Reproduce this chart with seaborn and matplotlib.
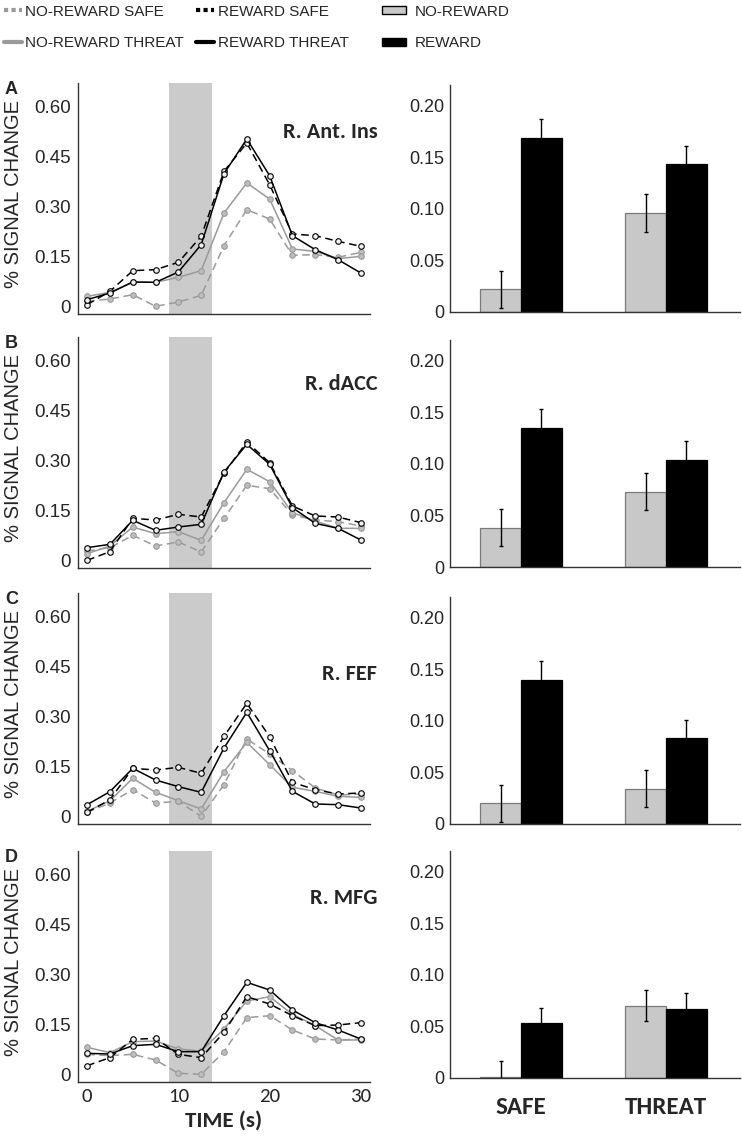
import matplotlib
matplotlib.use("Agg")
import matplotlib.pyplot as plt
from matplotlib import font_manager
from matplotlib.lines import Line2D
from matplotlib.patches import Patch
import pandas as pd
import seaborn as sns

# time course samples (s)
time = [0, 2.5, 5, 7.5, 10, 12.5, 15, 17.5, 20, 22.5, 25, 27.5, 30]

regions = ["R. Ant. Ins", "R. dACC", "R. FEF", "R. MFG"]
letters = ["A", "B", "C", "D"]

# % signal change time courses
ins_nr_safe = [0.015, 0.022, 0.035, 0.0, 0.013, 0.033, 0.182, 0.29, 0.262, 0.153, 0.155, 0.147, 0.162]
ins_nr_threat = [0.03, 0.042, 0.073, 0.072, 0.087, 0.107, 0.28, 0.37, 0.322, 0.172, 0.165, 0.143, 0.15]
ins_r_safe = [0.005, 0.045, 0.107, 0.11, 0.132, 0.21, 0.405, 0.49, 0.365, 0.217, 0.212, 0.195, 0.18]
ins_r_threat = [0.02, 0.04, 0.073, 0.072, 0.103, 0.185, 0.398, 0.502, 0.392, 0.212, 0.17, 0.14, 0.10]

dacc_nr_safe = [0.028, 0.038, 0.075, 0.043, 0.055, 0.025, 0.126, 0.225, 0.215, 0.136, 0.121, 0.116, 0.103]
dacc_nr_threat = [0.02, 0.043, 0.10, 0.08, 0.086, 0.06, 0.173, 0.273, 0.236, 0.143, 0.118, 0.096, 0.096]
dacc_r_safe = [0.0, 0.026, 0.126, 0.121, 0.138, 0.13, 0.261, 0.355, 0.293, 0.163, 0.133, 0.13, 0.113]
dacc_r_threat = [0.038, 0.048, 0.12, 0.09, 0.10, 0.108, 0.265, 0.348, 0.288, 0.158, 0.111, 0.096, 0.061]

fef_nr_safe = [0.012, 0.04, 0.08, 0.04, 0.045, 0.0, 0.095, 0.232, 0.187, 0.137, 0.085, 0.064, 0.067]
fef_nr_threat = [0.015, 0.047, 0.114, 0.072, 0.047, 0.022, 0.134, 0.222, 0.155, 0.087, 0.075, 0.06, 0.057]
fef_r_safe = [0.012, 0.05, 0.144, 0.139, 0.147, 0.129, 0.24, 0.339, 0.239, 0.102, 0.08, 0.067, 0.07]
fef_r_threat = [0.035, 0.074, 0.144, 0.109, 0.089, 0.072, 0.205, 0.312, 0.197, 0.075, 0.037, 0.035, 0.025]

mfg_nr_safe = [0.06, 0.056, 0.06, 0.043, 0.003, 0.0, 0.068, 0.17, 0.176, 0.133, 0.106, 0.103, 0.106]
mfg_nr_threat = [0.081, 0.065, 0.098, 0.10, 0.076, 0.07, 0.136, 0.22, 0.233, 0.18, 0.146, 0.103, 0.103]
mfg_r_safe = [0.026, 0.05, 0.105, 0.108, 0.06, 0.05, 0.126, 0.233, 0.211, 0.176, 0.146, 0.148, 0.155]
mfg_r_threat = [0.063, 0.061, 0.086, 0.09, 0.068, 0.068, 0.176, 0.276, 0.253, 0.193, 0.155, 0.133, 0.106]

courses = [
    [ins_nr_safe, ins_nr_threat, ins_r_safe, ins_r_threat],
    [dacc_nr_safe, dacc_nr_threat, dacc_r_safe, dacc_r_threat],
    [fef_nr_safe, fef_nr_threat, fef_r_safe, fef_r_threat],
    [mfg_nr_safe, mfg_nr_threat, mfg_r_safe, mfg_r_threat],
]

# mean beta per condition and its SEM
bar_cond = ["SAFE", "THREAT"]
ins_nr = [0.022, 0.096]
ins_r = [0.169, 0.143]
dacc_nr = [0.038, 0.073]
dacc_r = [0.135, 0.104]
fef_nr = [0.020, 0.034]
fef_r = [0.140, 0.083]
mfg_nr = [0.001, 0.070]
mfg_r = [0.053, 0.067]
bars = [(ins_nr, ins_r), (dacc_nr, dacc_r), (fef_nr, fef_r), (mfg_nr, mfg_r)]
sem = [0.018, 0.018, 0.018, 0.015]

cue_window = (8.95, 13.7)

sns.set_style("white")
plt.rcParams["font.family"] = ["Liberation Sans", "DejaVu Sans"]

names = {f.name for f in font_manager.fontManager.ttflist}
if "Liberation Sans Narrow" in names:
    leg_font = {"family": "Liberation Sans Narrow", "size": 12.5}
else:
    leg_font = {"family": "Liberation Sans", "size": 11}
bold_family = "Carlito" if "Carlito" in names else "Lato"

GRAY = "#9a9a9a"
series_style = [
    # color, dashed, marker face
    (GRAY, True, "#bdbdbd"),
    (GRAY, False, "#bdbdbd"),
    ("black", True, "#f0f0f0"),
    ("black", False, "#f0f0f0"),
]

W, H = 742, 1137
fig = plt.figure(figsize=(W / 100, H / 100), dpi=100)


def px_axes(left, top, right, bottom):
    return fig.add_axes([left / W, 1 - bottom / H, (right - left) / W, (bottom - top) / H])


left_tops = [83, 337, 593, 851]
right_zero = [312, 567, 824, 1078]
title_y = [0.76, 0.77, 0.625, 0.77]

for i in range(4):
    # time course panel
    ax = px_axes(78, left_tops[i], 370, left_tops[i] + 231)
    ax.axvspan(*cue_window, color="#cbcbcb", lw=0, zorder=0)
    for vals, (col, dashed, face) in zip(courses[i], series_style):
        sns.lineplot(x=time, y=vals, ax=ax, color=col, lw=1.1,
                     linestyle=(0, (5, 3)) if dashed else "-",
                     marker="o", markersize=4, markerfacecolor=face,
                     markeredgecolor=col, markeredgewidth=0.8)
    ax.set_xlim(-1, 31)
    ax.set_ylim(-0.023, 0.67)
    ax.set_yticks([0, 0.15, 0.30, 0.45, 0.60])
    ax.set_yticklabels(["0", "0.15", "0.30", "0.45", "0.60"])
    ax.set_xticks([0, 10, 20, 30])
    ax.tick_params(axis="y", direction="in", length=3, pad=5, labelsize=13.5, color="#333333")
    ax.tick_params(axis="x", direction="in", length=3, pad=4, labelsize=15, color="#333333")
    if i < 3:
        ax.set_xticklabels([])
    else:
        for t in ax.get_xticklabels():
            t.set_family(bold_family)
        ax.set_xlabel("TIME (s)", family=bold_family, weight="bold", fontsize=16.5)
        ax.xaxis.set_label_coords(0.5, -0.195)
        ax.xaxis.label.set_va("baseline")
    sns.despine(ax=ax)
    for s in ["left", "bottom"]:
        ax.spines[s].set_color("#333333")
        ax.spines[s].set_linewidth(1)
    ax.set_ylabel("% SIGNAL CHANGE", fontsize=14.5)
    ax.yaxis.set_label_coords(-0.19, 0.52)
    ax.text(1.025, title_y[i], regions[i], transform=ax.transAxes, ha="right", va="baseline",
            family=bold_family, weight="bold", fontsize=16)
    fig.text(5 / W, 1 - (left_tops[i] + 11) / H, letters[i], weight="bold", fontsize=13,
             ha="left", va="baseline")

    # bar panel
    bx = px_axes(450, right_zero[i] - 227, 740, right_zero[i])
    nr, r = bars[i]
    df = pd.DataFrame({
        "cond": bar_cond * 2,
        "reward": ["NO-REWARD"] * 2 + ["REWARD"] * 2,
        "value": nr + r,
    })
    sns.barplot(data=df, x="cond", y="value", hue="reward", ax=bx, width=0.56,
                palette=["#c8c8c8", "black"], errorbar=None, legend=False,
                saturation=1)
    for p, edge in zip(bx.patches, ["#7a7a7a"] * 2 + ["black"] * 2):
        p.set_edgecolor(edge)
        p.set_linewidth(0.9)
        bx.errorbar(p.get_x() + p.get_width() / 2, p.get_height(), yerr=sem[i],
                    color="black", lw=1, capsize=1.2, capthick=1)
    bx.set_xlim(-0.49, 1.51)
    bx.set_ylim(0, 0.22)
    bx.set_yticks([0, 0.05, 0.10, 0.15, 0.20])
    bx.set_yticklabels(["0", "0.05", "0.10", "0.15", "0.20"])
    bx.tick_params(axis="y", length=0, pad=4, labelsize=13)
    bx.set_xlabel("")
    bx.set_ylabel("")
    if i < 3:
        bx.set_xticks([])
    else:
        bx.tick_params(axis="x", length=0, pad=14)
        for t in bx.get_xticklabels():
            t.set_family(bold_family)
            t.set_weight("bold")
            t.set_fontsize(18)
    sns.despine(ax=bx)
    for s in ["left", "bottom"]:
        bx.spines[s].set_color("#333333")
        bx.spines[s].set_linewidth(1)

# legends
line_handles = [
    Line2D([], [], color=GRAY, lw=3, linestyle=(0, (1, 0.8))),
    Line2D([], [], color=GRAY, lw=3),
    Line2D([], [], color="black", lw=3, linestyle=(0, (1, 0.8))),
    Line2D([], [], color="black", lw=3),
]
line_labels = ["NO-REWARD SAFE", "NO-REWARD THREAT", "REWARD SAFE", "REWARD THREAT"]
fig.legend(line_handles, line_labels, ncol=2, loc="upper left", bbox_to_anchor=(0.003, 1 - 3 / H),
           frameon=False, prop=leg_font, handlelength=1.2, handletextpad=0.2,
           columnspacing=0.8, labelspacing=1.15, borderpad=0.1, borderaxespad=0)

bar_handles = [Patch(facecolor="#c8c8c8", edgecolor="black", lw=1),
               Patch(facecolor="black", edgecolor="black", lw=1)]
fig.legend(bar_handles, ["NO-REWARD", "REWARD"], loc="upper left", bbox_to_anchor=(380 / W, 1 - 3 / H),
           frameon=False, prop=leg_font, handlelength=1.6, handleheight=0.45,
           handletextpad=0.6, labelspacing=1.15, borderpad=0.1, borderaxespad=0)

fig.savefig("out.png", dpi=100)
